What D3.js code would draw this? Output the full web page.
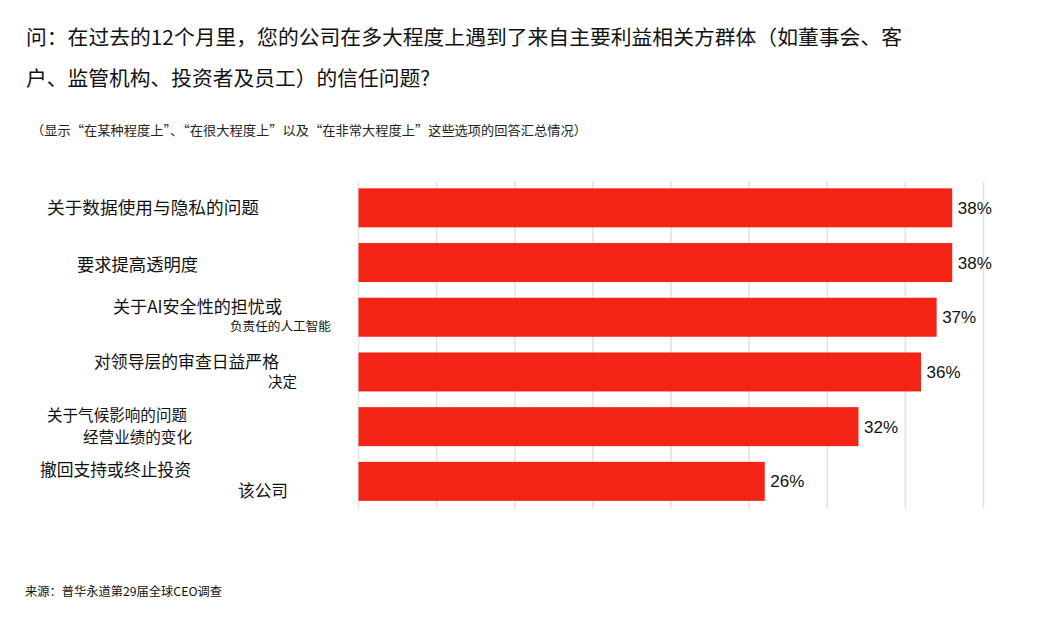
<!DOCTYPE html>
<html>
<head>
<meta charset="utf-8">
<script src="https://cdn.jsdelivr.net/npm/d3@7"></script>
<style>
  html, body { margin: 0; padding: 0; background: #fff; }
  svg { display: block; font-family: "Noto Sans CJK SC", "Noto Sans", sans-serif; }
</style>
</head>
<body>
<div id="chart"></div>
<script>
// data
var titleLines = ["问：在过去的12个月里，您的公司在多大程度上遇到了来自主要利益相关方群体（如董事会、客",
                  "户、监管机构、投资者及员工）的信任问题?"];
var subtitle = "（显示“在某种程度上”、“在很大程度上”以及“在非常大程度上”这些选项的回答汇总情况）";
var source = "来源：普华永道第29届全球CEO调查";
var categories = [
  ["关于数据使用与隐私的问题"],
  ["要求提高透明度"],
  ["关于AI安全性的担忧或", "负责任的人工智能"],
  ["对领导层的审查日益严格", "决定"],
  ["关于气候影响的问题", "经营业绩的变化"],
  ["撤回支持或终止投资", "该公司"]
];
var values = [38, 38, 37, 36, 32, 26];
var gridTicks = [0, 5, 10, 15, 20, 25, 30, 35, 40];

// label placement (x start, offset from bar centre, font size, width)
var labelLayout = [
  [{x: 47, dy: 0, size: 17, w: 212}],
  [{x: 77, dy: 2, size: 17, w: 121}],
  [{x: 113, dy: -10, size: 17, w: 169}, {x: 230, dy: 9, size: 12.5, w: 101}],
  [{x: 94, dy: -10.5, size: 17, w: 185}, {x: 268, dy: 9.5, size: 14.5, w: 29}],
  [{x: 47, dy: -11.5, size: 15.5, w: 140}, {x: 83, dy: 10.5, size: 15.5, w: 109}],
  [{x: 40, dy: -11, size: 17, w: 151}, {x: 238, dy: 10, size: 17, w: 50}]
];

var width = 1044, height = 622;
var red = "#f32316";

var svg = d3.select("#chart").append("svg")
  .attr("width", width).attr("height", height);

// title
svg.selectAll("text.title").data(titleLines).enter().append("text")
  .attr("class", "title")
  .attr("x", 26).attr("y", function(d, i) { return 45 + i * 41; })
  .attr("font-size", 20.5).attr("fill", "#111")
  .attr("textLength", function(d, i) { return i == 0 ? 876 : 404; })
  .attr("lengthAdjust", "spacingAndGlyphs")
  .text(function(d) { return d; });

svg.append("text")
  .attr("x", 31).attr("y", 135)
  .attr("font-size", 12.8).attr("fill", "#222")
  .attr("textLength", 556).attr("lengthAdjust", "spacingAndGlyphs")
  .text(subtitle);

svg.append("text")
  .attr("x", 25).attr("y", 595.5)
  .attr("font-size", 12).attr("fill", "#111")
  .attr("textLength", 197).attr("lengthAdjust", "spacingAndGlyphs")
  .text(source);

var x = d3.scaleLinear().domain([0, 40]).range([358.5, 983.5]);
var y = d3.scaleBand().domain(d3.range(values.length))
  .range([180.5, 508.7]).paddingInner(0.287).paddingOuter(0.1435);

// gridlines
svg.append("g").selectAll("line").data(gridTicks).enter().append("line")
  .attr("x1", function(d) { return x(d); }).attr("x2", function(d) { return x(d); })
  .attr("y1", 181.5).attr("y2", 508.5)
  .attr("stroke", "#e3e3e3").attr("stroke-width", 1.6);

// bars
svg.append("g").selectAll("rect").data(values).enter().append("rect")
  .attr("x", x(0))
  .attr("y", function(d, i) { return y(i); })
  .attr("width", function(d) { return x(d) - x(0); })
  .attr("height", y.bandwidth())
  .attr("fill", red);

// value labels
svg.append("g").selectAll("text").data(values).enter().append("text")
  .attr("x", function(d) { return x(d) + 5.5; })
  .attr("y", function(d, i) { return y(i) + y.bandwidth() / 2; })
  .attr("dy", "0.36em")
  .attr("font-family", "'Liberation Sans', Arial, sans-serif")
  .attr("font-size", 17).attr("fill", "#111")
  .text(function(d) { return d + "%"; });

// category labels
var lab = svg.append("g");
categories.forEach(function(lines, i) {
  var cy = y(i) + y.bandwidth() / 2;
  lines.forEach(function(t, j) {
    var l = labelLayout[i][j];
    lab.append("text")
      .attr("x", l.x).attr("y", cy + l.dy)
      .attr("dy", "0.36em")
      .attr("font-size", l.size).attr("fill", "#111")
      .attr("textLength", l.w).attr("lengthAdjust", "spacingAndGlyphs")
      .text(t);
  });
});
</script>
</body>
</html>
